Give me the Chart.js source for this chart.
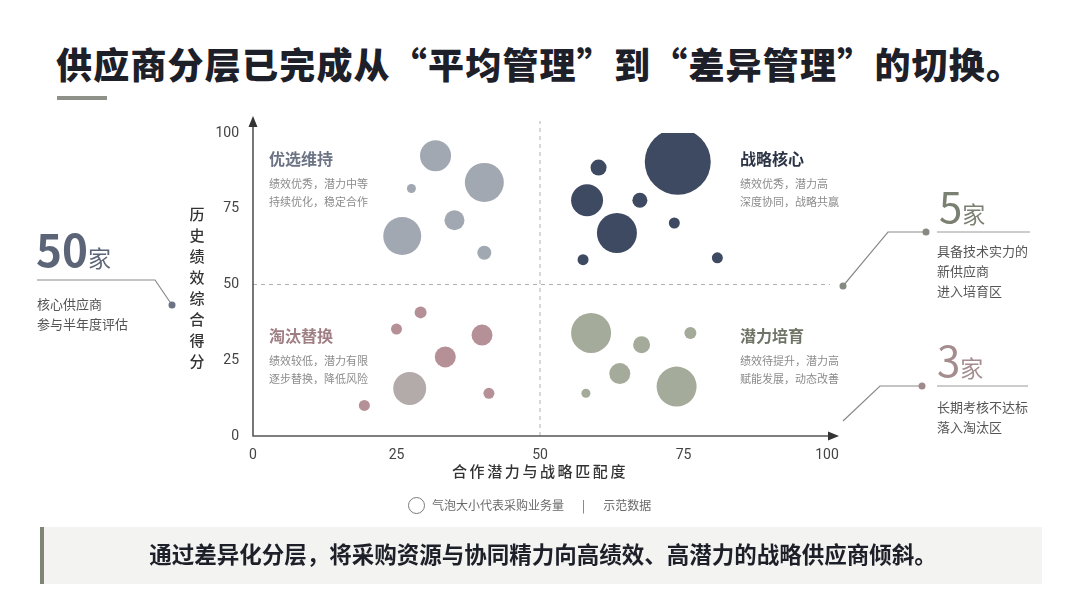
<!DOCTYPE html>
<html>
<head>
<meta charset="utf-8">
<script src="https://cdn.jsdelivr.net/npm/chart.js@4"></script>
<style>
  body { margin: 0; background: #fff; }
  #page {
    position: relative; width: 1080px; height: 608px; overflow: hidden;
    font-family: "Noto Sans CJK SC", "Noto Sans", sans-serif; color: #333;
  }
  .abs { position: absolute; white-space: nowrap; }
  #title { left: 56px; top: 37px; font-size: 36px; font-weight: 900; color: #1d2028; letter-spacing: 1.2px; }
  #titleBar { left: 57px; top: 96px; width: 50px; height: 4px; background: #8d9188; }
  #chartBox { position: absolute; left: 180px; top: 100px; width: 680px; height: 400px; }
  .qTitle { font-size: 16px; font-weight: 700; }
  .qSub { font-size: 11px; color: #8c8c8c; line-height: 18px; }
  #yTitle { left: 187px; top: 203px; width: 20px; font-size: 15px; font-weight: 500; color: #333; line-height: 21px; white-space: normal; text-align: center; }
  #xTitle { left: 452px; top: 460px; font-size: 15px; font-weight: 500; color: #333; letter-spacing: 2.6px; }
  #legend { left: 408px; top: 496px; font-size: 12px; color: #6a6a6a; }
  #legend .ring { display: inline-block; width: 15px; height: 15px; border: 1.3px solid #7a7a7a; border-radius: 50%; vertical-align: -4px; margin-right: 7px; }
  #legend .sep { display: inline-block; margin: 0 18px; }
  #footer { left: 40px; top: 527px; width: 998px; height: 57px; background: #f3f3f1; border-left: 4px solid #7f8676; }
  #footerText { left: 44px; top: 537px; width: 998px; text-align: center; font-size: 22.5px; font-weight: 700; color: #1d2028; }
  .big { font-size: 42px; line-height: 42px; }
  .jia { font-size: 23px; }
  .note { font-size: 13px; color: #555; line-height: 20px; }
</style>
</head>
<body>
<div id="page">
  <div id="title" class="abs">供应商分层已完成从“平均管理”到“差异管理”的切换。</div>
  <div id="titleBar" class="abs"></div>

  <div id="chartBox"><canvas id="chart" width="680" height="400"></canvas></div>

  <svg class="abs" style="left:0;top:0" width="1080" height="608">
    <g fill="none" stroke="#8a8a8a" stroke-width="1.2">
      <polyline points="37,280 155,280 172,305" />
      <polyline points="926,232 888,232 843,286" />
      <polyline points="922,386 880,386 843,421" />
    </g>
    <g stroke="#9a9a9a" stroke-width="1.2">
      <line x1="937" y1="232" x2="1030" y2="232" />
      <line x1="937" y1="386" x2="1028" y2="386" />
    </g>
    <circle cx="172" cy="305" r="3.5" fill="#6b7385" />
    <circle cx="926" cy="232" r="3.5" fill="#858a80" />
    <circle cx="843" cy="286" r="3.5" fill="#858a80" />
    <circle cx="922" cy="386" r="3.5" fill="#a0898c" />
  </svg>

  <div class="abs" style="left:36px;top:227px;color:#5b6577">
    <span class="big" style="font-weight:700;font-size:44px">50</span><span class="jia">家</span>
  </div>
  <div class="abs note" style="left:37px;top:294px">核心供应商<br>参与半年度评估</div>

  <div class="abs" style="left:939px;top:184px;color:#7b8172">
    <span class="big">5</span><span class="jia">家</span>
  </div>
  <div class="abs note" style="left:937px;top:241px">具备技术实力的<br>新供应商<br>进入培育区</div>

  <div class="abs" style="left:937px;top:338px;color:#a58c8f">
    <span class="big">3</span><span class="jia">家</span>
  </div>
  <div class="abs note" style="left:937px;top:397px">长期考核不达标<br>落入淘汰区</div>

  <div class="abs qTitle" style="left:269px;top:146px;color:#6b7385">优选维持</div>
  <div class="abs qSub" style="left:269px;top:174px">绩效优秀，潜力中等<br>持续优化，稳定合作</div>
  <div class="abs qTitle" style="left:740px;top:146px;color:#2c3446">战略核心</div>
  <div class="abs qSub" style="left:740px;top:174px">绩效优秀，潜力高<br>深度协同，战略共赢</div>
  <div class="abs qTitle" style="left:269px;top:323px;color:#a07f84">淘汰替换</div>
  <div class="abs qSub" style="left:269px;top:351px">绩效较低，潜力有限<br>逐步替换，降低风险</div>
  <div class="abs qTitle" style="left:740px;top:323px;color:#6f7566">潜力培育</div>
  <div class="abs qSub" style="left:740px;top:351px">绩效待提升，潜力高<br>赋能发展，动态改善</div>

  <div id="yTitle" class="abs">历史绩效综合得分</div>
  <div id="xTitle" class="abs">合作潜力与战略匹配度</div>

  <div id="legend" class="abs"><span class="ring"></span>气泡大小代表采购业务量<span class="sep">|</span>示范数据</div>

  <div id="footer" class="abs"></div>
  <div id="footerText" class="abs">通过差异化分层，将采购资源与协同精力向高绩效、高潜力的战略供应商倾斜。</div>
</div>

<script>
// tiers (quadrants)
const tiers = ["优选维持", "战略核心", "淘汰替换", "潜力培育"]

// [合作潜力, 历史绩效, 采购业务量(气泡半径)]
const preferredPoints = [
  [31.8, 92.5, 15.5], [40.3, 83.7, 19.5], [27.6, 81.7, 4.5],
  [35.1, 71.2, 10], [26.0, 66.0, 19], [40.3, 60.5, 7],
]
const strategicPoints = [
  [74.0, 90.5, 33], [60.2, 88.6, 8], [58.2, 77.8, 16], [67.4, 77.8, 7.5],
  [63.4, 67.0, 20], [73.4, 70.3, 5.5], [57.5, 58.2, 5.5], [80.9, 58.8, 5.5],
]
const eliminatePoints = [
  [29.2, 40.8, 6], [25.0, 35.3, 5.5], [39.9, 33.3, 10.5], [33.5, 26.1, 10.5],
  [27.3, 15.7, 16.5], [41.1, 14.1, 5.5], [19.4, 10.1, 5.5],
]
const cultivatePoints = [
  [58.9, 34.0, 20], [76.2, 34.0, 6], [67.7, 30.1, 8.5],
  [63.9, 20.6, 10.5], [73.8, 16.3, 20], [58.0, 14.1, 4.5],
]

const axisTicks = [0, 25, 50, 75, 100]
const splitValue = 50

const toBubbles = (points) => points.map(([x, y, r]) => ({ x, y, r }))

const tierColors = ["#a2a8b2", "#3e4a61", "#b59197", "#a4ab9a"]
const tierPoints = [preferredPoints, strategicPoints, eliminatePoints, cultivatePoints]

/**
 * Axes with arrows and dashed quadrant split lines
 */
const quadrantPlugin = {
  id: "quadrant",
  beforeDatasetsDraw(chart) {
    const { ctx, scales: { x, y } } = chart
    const x0 = x.getPixelForValue(0)
    const y0 = y.getPixelForValue(0)
    const xm = x.getPixelForValue(splitValue)
    const ym = y.getPixelForValue(splitValue)
    ctx.save()
    ctx.strokeStyle = "#b0b0b0"
    ctx.lineWidth = 1
    ctx.setLineDash([4, 4])
    ctx.beginPath()
    ctx.moveTo(xm, y0)
    ctx.lineTo(xm, y.getPixelForValue(100) - 12)
    ctx.moveTo(x0, ym)
    ctx.lineTo(x.getPixelForValue(100) + 3, ym)
    ctx.stroke()
    ctx.restore()
  },
  afterDraw(chart) {
    const { ctx, scales: { x, y } } = chart
    const x0 = x.getPixelForValue(0)
    const y0 = y.getPixelForValue(0)
    const xEnd = x.getPixelForValue(100) + 12
    const yEnd = y.getPixelForValue(100) - 17
    ctx.save()
    ctx.strokeStyle = "#555"
    ctx.fillStyle = "#333"
    ctx.lineWidth = 1.6
    ctx.beginPath()
    ctx.moveTo(x0, yEnd + 6)
    ctx.lineTo(x0, y0)
    ctx.lineTo(xEnd - 6, y0)
    ctx.stroke()
    ctx.beginPath()
    ctx.moveTo(x0, yEnd)
    ctx.lineTo(x0 - 4.5, yEnd + 11)
    ctx.lineTo(x0 + 4.5, yEnd + 11)
    ctx.closePath()
    ctx.fill()
    ctx.beginPath()
    ctx.moveTo(xEnd, y0)
    ctx.lineTo(xEnd - 11, y0 - 4.5)
    ctx.lineTo(xEnd - 11, y0 + 4.5)
    ctx.closePath()
    ctx.fill()
    ctx.restore()
  },
}

const tickStyle = { color: "#444", font: { family: "Roboto, 'Noto Sans'", size: 14 } }

new Chart(document.getElementById("chart"), {
  type: "bubble",
  data: {
    datasets: tiers.map((label, i) => ({
      label,
      data: toBubbles(tierPoints[i]),
      backgroundColor: (c) =>
        i === 2 && c.raw && c.raw.r > 14 ? "#b3aaaa" : tierColors[i],
      borderWidth: 0,
      hoverBorderWidth: 0,
    })),
  },
  options: {
    responsive: false,
    animation: false,
    events: [],
    layout: { padding: { left: 33, top: 30, right: 31, bottom: 40 } },
    plugins: { legend: { display: false }, tooltip: { enabled: false } },
    scales: {
      x: {
        min: 0,
        max: 100,
        afterBuildTicks: (s) => { s.ticks = axisTicks.map((v) => ({ value: v })) },
        afterFit: (s) => { s.height = 24 },
        grid: { display: false },
        border: { display: false },
        ticks: { ...tickStyle, padding: 3 },
      },
      y: {
        min: 0,
        max: 100,
        afterBuildTicks: (s) => { s.ticks = axisTicks.map((v) => ({ value: v })) },
        afterFit: (s) => { s.width = 40 },
        grid: { display: false },
        border: { display: false },
        ticks: { ...tickStyle, padding: 6 },
      },
    },
  },
  plugins: [quadrantPlugin],
})
</script>
</body>
</html>
